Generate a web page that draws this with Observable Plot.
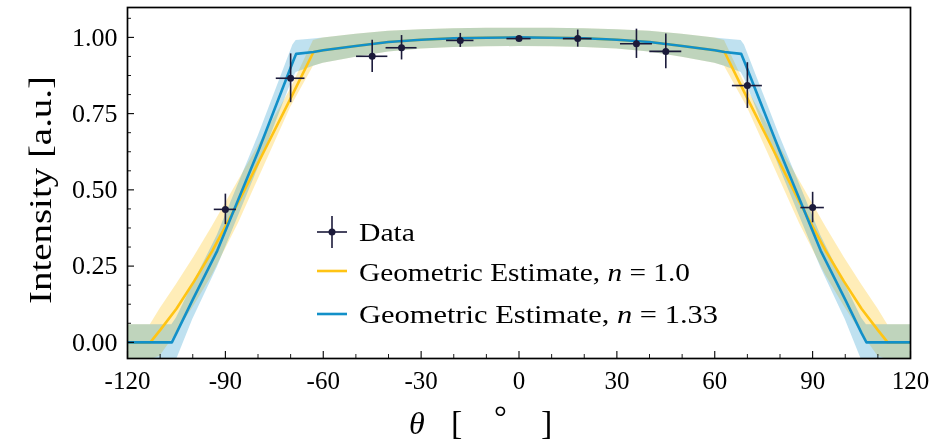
<!DOCTYPE html>
<html>
<head>
<meta charset="utf-8">
<script src="https://cdn.jsdelivr.net/npm/d3@7"></script>
<script src="https://cdn.jsdelivr.net/npm/@observablehq/plot@0.6"></script>
<style>
  html, body { margin: 0; padding: 0; background: #fff; }
  #chart { width: 930px; height: 444px; }
</style>
</head>
<body>
<div id="chart"></div>
<script>
// ---- Data ----
const dataTheta    = [-90, -70, -45, -36, -18, 0, 18, 36, 45, 70, 90];
const dataI        = [0.436, 0.866, 0.938, 0.966, 0.990, 0.996, 0.996, 0.979, 0.954, 0.842, 0.442];
const dataThetaErr = [3.4, 4.4, 4.8, 4.75, 4.2, 3.7, 4.4, 4.9, 4.9, 4.6, 3.6];
const dataIErr     = [0.05, 0.08, 0.053, 0.04, 0.023, 0.008, 0.028, 0.048, 0.057, 0.075, 0.05];

// Geometric estimate, n = 1.33
const blueTheta = [-120, -106.4, -105, -100, -92.5, -79.8, -69.3, -68.3, -63, -60, -50, -40, -30, -20, -10, 0,
                   10, 20, 30, 40, 50, 60, 63, 68.1, 69.1, 79.8, 92.5, 100, 105, 106.5, 120];
const blueI     = [0, 0, 0.03, 0.14, 0.30, 0.63, 0.92, 0.946, 0.952, 0.958, 0.972, 0.985, 0.992, 0.997, 0.999, 1.0,
                   0.999, 0.997, 0.992, 0.985, 0.972, 0.958, 0.952, 0.946, 0.92, 0.63, 0.30, 0.14, 0.03, 0, 0];
const blueHi    = [0.058, 0.058, 0.08, 0.19, 0.35, 0.68, 0.975, 0.99, 0.995, 0.998, 1.01, 1.02, 1.025, 1.028, 1.03, 1.03,
                   1.03, 1.028, 1.025, 1.02, 1.01, 0.998, 0.995, 0.99, 0.975, 0.68, 0.35, 0.19, 0.08, 0.058, 0.058];
const blueLo    = [-0.058, -0.058, -0.058, 0.075, 0.245, 0.575, 0.865, 0.885, 0.905, 0.915, 0.935, 0.952, 0.962, 0.967, 0.969, 0.97,
                   0.969, 0.967, 0.962, 0.952, 0.935, 0.915, 0.905, 0.885, 0.865, 0.575, 0.245, 0.075, -0.058, -0.058, -0.058];

// Geometric estimate, n = 1.0
const yellowTheta = [-120, -113, -110, -105, -99.6, -94, -86, -78, -70, -63, -60, -50, -40, -30, -20, -10, 0,
                     10, 20, 30, 40, 50, 60, 63, 70, 78, 86, 94, 99.6, 105, 110, 113, 120];
const yellowI     = [0, 0, 0.04, 0.11, 0.20, 0.30, 0.46, 0.63, 0.80, 0.952, 0.958, 0.972, 0.985, 0.992, 0.997, 0.999, 1.0,
                     0.999, 0.997, 0.992, 0.985, 0.972, 0.958, 0.952, 0.80, 0.63, 0.46, 0.30, 0.20, 0.11, 0.04, 0, 0];
const yellowHi    = [0.058, 0.058, 0.11, 0.19, 0.28, 0.38, 0.53, 0.68, 0.83, 0.99, 0.998, 1.01, 1.02, 1.025, 1.028, 1.03, 1.03,
                     1.03, 1.028, 1.025, 1.02, 1.01, 0.998, 0.99, 0.83, 0.68, 0.53, 0.38, 0.28, 0.19, 0.11, 0.058, 0.058];
const yellowLo    = [-0.058, -0.058, -0.045, 0.03, 0.12, 0.22, 0.39, 0.58, 0.77, 0.905, 0.915, 0.935, 0.952, 0.962, 0.967, 0.969, 0.97,
                     0.969, 0.967, 0.962, 0.952, 0.935, 0.915, 0.905, 0.77, 0.58, 0.39, 0.22, 0.12, 0.03, -0.045, -0.058, -0.058];

const xTicks      = [-120, -90, -60, -30, 0, 30, 60, 90, 120];
const xMinorTicks = [-110, -100, -80, -70, -50, -40, -20, -10, 10, 20, 40, 50, 70, 80, 100, 110];
const yTicks      = [0, 0.25, 0.5, 0.75, 1.0];
const yMinorTicks = [0.0625, 0.125, 0.1875, 0.3125, 0.375, 0.4375, 0.5625, 0.625, 0.6875, 0.8125, 0.875, 0.9375, 1.0625];

const legendLabels = ["Data", "Geometric Estimate, ", "Geometric Estimate, "];
const legendMath   = ["", " = 1.0", " = 1.33"];

// ---- Tables ----
const data   = dataTheta.map((t, i) => ({t, v: dataI[i], te: dataThetaErr[i], ve: dataIErr[i]}));
const blue   = blueTheta.map((t, i) => ({t, v: blueI[i], lo: blueLo[i], hi: blueHi[i]}));
const yellow = yellowTheta.map((t, i) => ({t, v: yellowI[i], lo: yellowLo[i], hi: yellowHi[i]}));

const YELLOW = "#FFC414";
const BLUE = "#1290c8";
const NAVY = "#1b1a3a";

const W = 930, H = 444, ML = 127, MR = 20, MT = 7, MB = 86;
const innerW = W - ML - MR, innerH = H - MT - MB;

const chart = Plot.plot({
  width: W, height: H,
  marginLeft: ML, marginRight: MR, marginTop: MT, marginBottom: MB,
  x: {domain: [-120, 120]},
  y: {domain: [-0.053, 1.098]},
  style: {fontFamily: "Liberation Serif", background: "white", color: "black", overflow: "visible"},
  marks: [
    Plot.areaY(yellow, {x: "t", y1: "lo", y2: "hi", fill: YELLOW, fillOpacity: 0.3, clip: true}),
    Plot.areaY(blue, {x: "t", y1: "lo", y2: "hi", fill: BLUE, fillOpacity: 0.27, mixBlendMode: "multiply", clip: true}),
    Plot.line(yellow, {x: "t", y: "v", stroke: YELLOW, strokeWidth: 2.6, clip: true}),
    Plot.line(blue, {x: "t", y: "v", stroke: BLUE, strokeWidth: 2.6, clip: true}),
    Plot.ruleX(data, {x: "t", y1: d => d.v - d.ve, y2: d => d.v + d.ve, stroke: NAVY, strokeWidth: 1.6}),
    Plot.ruleY(data, {y: "v", x1: d => d.t - d.te, x2: d => d.t + d.te, stroke: NAVY, strokeWidth: 1.6}),
    Plot.dot(data, {x: "t", y: "v", r: 3.5, fill: NAVY, stroke: null}),
    Plot.axisX(xTicks, {tickSize: 0, tickPadding: 13, tickFormat: d => String(d), fontSize: 25, label: null}),
    Plot.axisY(yTicks, {tickSize: 0, tickPadding: 10, tickFormat: d3.format(".2f"), fontSize: 26, label: null}),
    Plot.tickX(xTicks, {x: d => d, insetTop: innerH - 7, stroke: "black", strokeWidth: 1.1}),
    Plot.tickX(xMinorTicks, {x: d => d, insetTop: innerH - 4, stroke: "black", strokeWidth: 0.9}),
    Plot.tickY(yTicks, {y: d => d, insetRight: innerW - 7, stroke: "black", strokeWidth: 1.1}),
    Plot.tickY(yMinorTicks, {y: d => d, insetRight: innerW - 4, stroke: "black", strokeWidth: 0.9}),
    Plot.frame({stroke: "black", strokeWidth: 1.7})
  ]
});

document.getElementById("chart").appendChild(chart);

// ---- Axis titles and legend (layout) ----
const svg = d3.select(chart);
const serif = "Liberation Serif";

const xl = svg.append("text")
  .attr("y", 434).attr("text-anchor", "start")
  .attr("font-family", serif).attr("font-size", 32).attr("fill", "black");
xl.append("tspan").attr("x", 409).attr("font-style", "italic").text("θ");
xl.append("tspan").attr("x", 451).attr("font-size", 34).text("[");
xl.append("tspan").attr("x", 494).attr("y", 428).text("°");
xl.append("tspan").attr("x", 541).attr("y", 434).attr("font-size", 34).text("]");

svg.append("text")
  .attr("transform", "translate(51,190) rotate(-90)")
  .attr("text-anchor", "middle")
  .attr("font-family", serif).attr("font-size", 31).attr("fill", "black")
  .attr("textLength", 228).attr("lengthAdjust", "spacingAndGlyphs")
  .text("Intensity [a.u.]");

const lg = svg.append("g").attr("font-family", serif).attr("font-size", 26).attr("fill", "black").attr("text-anchor", "start");
// Data glyph
lg.append("line").attr("x1", 317).attr("x2", 347).attr("y1", 232).attr("y2", 232).attr("stroke", NAVY).attr("stroke-width", 1.6);
lg.append("line").attr("x1", 332).attr("x2", 332).attr("y1", 216).attr("y2", 248).attr("stroke", NAVY).attr("stroke-width", 1.6);
lg.append("circle").attr("cx", 332).attr("cy", 232).attr("r", 3.5).attr("fill", NAVY);
// Line glyphs
lg.append("line").attr("x1", 317).attr("x2", 347).attr("y1", 271).attr("y2", 271).attr("stroke", YELLOW).attr("stroke-width", 2.6);
lg.append("line").attr("x1", 317).attr("x2", 347).attr("y1", 314).attr("y2", 314).attr("stroke", BLUE).attr("stroke-width", 2.6);

const ys = [241, 281, 323];
const lens = [56, 331, 359];
legendLabels.forEach((lab, i) => {
  const t = lg.append("text").attr("x", 359).attr("y", ys[i])
    .attr("textLength", lens[i]).attr("lengthAdjust", "spacingAndGlyphs");
  t.append("tspan").text(lab);
  if (legendMath[i]) {
    t.append("tspan").attr("font-style", "italic").text("n");
    t.append("tspan").text(legendMath[i]);
  }
});
</script>
</body>
</html>
